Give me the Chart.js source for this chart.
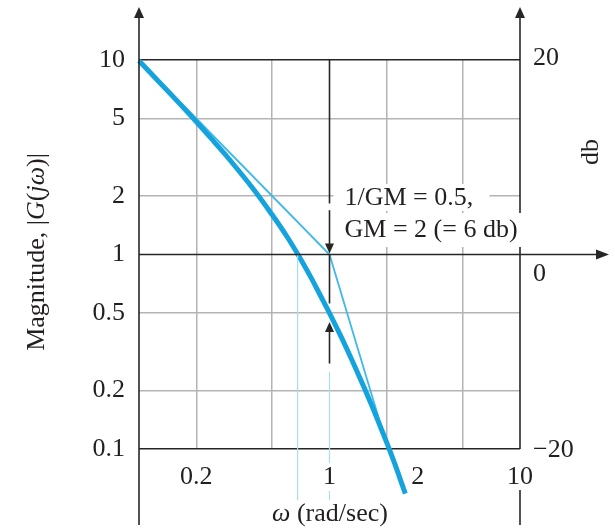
<!DOCTYPE html>
<html>
<head>
<meta charset="utf-8">
<script src="https://cdn.jsdelivr.net/npm/chart.js@4/dist/chart.umd.min.js"></script>
<style>
  html, body { margin: 0; padding: 0; background: #fff; }
</style>
</head>
<body>
<canvas id="bode" width="615" height="528"></canvas>
<script>
// values (log-log)
const omega = [0.1, 0.15, 0.2, 0.25, 0.3, 0.4, 0.5, 0.6, 0.7, 0.8, 0.9, 1.0, 1.15, 1.3, 1.45, 1.6, 1.75, 1.9, 2.05, 2.2, 2.35, 2.5];
const magnitude = [9.9, 6.52, 4.81, 3.76, 3.06, 2.16, 1.6, 1.23, 0.96, 0.76, 0.61, 0.5, 0.378, 0.292, 0.23, 0.184, 0.149, 0.122, 0.101, 0.084, 0.07, 0.059];
const asymptoteOmega = [0.1, 1, 1.85];
const asymptoteMagnitude = [10, 1, 0.135];
const gridValues = [0.1, 0.2, 0.5, 1, 2, 5, 10];
const freqLabels = ["0.2", "1", "2", "10"];
const freqLabelValues = [0.2, 1, 2, 10];
const dbLabels = ["20", "0", "\u221220"];
const dbLabelValues = [10, 1, 0.1];
const crossoverOmega = 0.68;
const phaseCrossOmega = 1;
const gmLines = ["1/GM = 0.5,", "GM = 2 (= 6 db)"];

const DARK = "#262626";
const GREY = "#b4b4b4";
const BLUE = "#15a3de";
const THIN = "#3fb9ec";
const LIGHT = "#a8def5";
const TEXT = "#231f20";
const SERIF = "'Liberation Serif', 'DejaVu Serif', serif";
const FS = 26;
const font = (it) => (it ? "italic " : "") + FS + "px " + SERIF;

function arrow(ctx, x, y, dir, len, half) {
	ctx.beginPath();
	ctx.moveTo(x, y);
	if (dir === "up") { ctx.lineTo(x - half, y + len); ctx.lineTo(x + half, y + len); }
	if (dir === "down") { ctx.lineTo(x - half, y - len); ctx.lineTo(x + half, y - len); }
	if (dir === "right") { ctx.lineTo(x - len, y - half); ctx.lineTo(x - len, y + half); }
	ctx.closePath();
	ctx.fill();
}

function seg(ctx, x0, y0, x1, y1) {
	ctx.beginPath();
	ctx.moveTo(x0, y0);
	ctx.lineTo(x1, y1);
	ctx.stroke();
}

function richText(ctx, parts, x, y) {
	let total = 0;
	parts.forEach(p => { ctx.font = font(p[1]); total += ctx.measureText(p[0]).width; });
	let cx = x - total / 2;
	ctx.textAlign = "left";
	parts.forEach(p => {
		ctx.font = font(p[1]);
		ctx.fillText(p[0], cx, y);
		cx += ctx.measureText(p[0]).width;
	});
}

const overlay = {
	id: "overlay",
	afterDatasetsDraw(chart) {
		const { ctx, chartArea: a, scales: { x, y } } = chart;
		const px = v => x.getPixelForValue(v);
		const py = v => y.getPixelForValue(v);
		const w1 = px(phaseCrossOmega);
		ctx.save();

		// light guide lines
		ctx.strokeStyle = LIGHT;
		ctx.lineWidth = 1.2;
		seg(ctx, px(crossoverOmega), py(1), px(crossoverOmega), 500);
		seg(ctx, w1, py(0.25), w1, 500);

		// white boxes behind the note
		ctx.fillStyle = "#fff";
		ctx.fillRect(w1 + 4, 184, 156, 27);
		ctx.fillRect(w1 + 6, 213, 196, 34);

		// note text
		ctx.fillStyle = TEXT;
		ctx.font = font(false);
		ctx.textAlign = "left";
		ctx.textBaseline = "middle";
		ctx.fillText(gmLines[0], w1 + 15, 198);
		ctx.fillText(gmLines[1], w1 + 15, 230);

		// frequency labels
		ctx.textAlign = "center";
		freqLabels.forEach((t, i) => {
			const v = freqLabelValues[i];
			let cx = px(v);
			if (v === 2) cx += 31;
			const wd = ctx.measureText(t).width;
			ctx.fillStyle = "#fff";
			ctx.fillRect(cx - wd / 2 - 3, 463, wd + 6, 28);
			ctx.fillStyle = TEXT;
			ctx.fillText(t, cx, 477);
		});

		// db labels
		ctx.textAlign = "left";
		dbLabels.forEach((t, i) => {
			const v = dbLabelValues[i];
			const off = v === 1 ? 20 : (v === 10 ? -2 : 1);
			ctx.fillText(t, a.right + 13, py(v) + off);
		});

		// axis titles
		richText(ctx, [["\u03c9", true], [" (rad/sec)", false]], 330, 514);
		ctx.save();
		ctx.translate(37, 252);
		ctx.rotate(-Math.PI / 2);
		richText(ctx, [["Magnitude, |", false], ["G", true], ["(", false], ["j\u03c9", true], [")|", false]], 0, 0);
		ctx.restore();
		ctx.save();
		ctx.translate(591, 152);
		ctx.rotate(-Math.PI / 2);
		richText(ctx, [["db", false]], 0, 0);
		ctx.restore();

		// axes
		ctx.strokeStyle = DARK;
		ctx.fillStyle = DARK;
		ctx.lineWidth = 1.6;
		seg(ctx, a.left, 14, a.left, 525);
		arrow(ctx, a.left, 7, "up", 11, 5);
		seg(ctx, a.right, 14, a.right, 213);
		seg(ctx, a.right, 247, a.right, a.bottom);
		seg(ctx, a.right, 490, a.right, 525);
		arrow(ctx, a.right, 7, "up", 11, 5);
		seg(ctx, a.left, py(1), 600, py(1));
		arrow(ctx, 609, py(1), "right", 13, 5);

		// gain margin marker at phase crossover
		seg(ctx, w1, a.top, w1, py(1.83));
		seg(ctx, w1, py(1.69), w1, py(1) - 8);
		arrow(ctx, w1, py(1) - 1, "down", 10, 4.5);
		seg(ctx, w1, py(1), w1, py(0.56));
		seg(ctx, w1, py(0.45) + 8, w1, py(0.275));
		arrow(ctx, w1, py(0.45), "up", 10, 4.5);

		ctx.restore();
	}
};

const gridColor = (majorDark, hidden) => (c) => {
	const v = c.tick ? c.tick.value : null;
	if (hidden.includes(v)) return "rgba(0,0,0,0)";
	if (majorDark.includes(v)) return DARK;
	return GREY;
};

new Chart(document.getElementById("bode"), {
	type: "scatter",
	data: {
		datasets: [
			{
				label: "|G(j\u03c9)|",
				data: omega.map((w, i) => ({ x: w, y: magnitude[i] })),
				showLine: true,
				borderColor: BLUE,
				borderWidth: 5,
				pointRadius: 0,
				tension: 0.4,
				clip: false
			},
			{
				label: "asymptote",
				data: asymptoteOmega.map((w, i) => ({ x: w, y: asymptoteMagnitude[i] })),
				showLine: true,
				borderColor: THIN,
				borderWidth: 1.8,
				pointRadius: 0,
				clip: false
			}
		]
	},
	options: {
		responsive: false,
		animation: false,
		layout: { padding: { left: 0, right: 95, top: 60, bottom: 0 } },
		plugins: { legend: { display: false }, tooltip: { enabled: false } },
		scales: {
			x: {
				type: "logarithmic",
				min: 0.1,
				max: 10,
				afterBuildTicks: s => { s.ticks = gridValues.map(v => ({ value: v })); },
				afterFit: s => { s.height = 79; },
				border: { display: false },
				grid: { color: gridColor([], [0.1, 1, 10]), lineWidth: 1.5, drawTicks: false },
				ticks: { display: false }
			},
			y: {
				type: "logarithmic",
				min: 0.1,
				max: 10,
				afterBuildTicks: s => { s.ticks = gridValues.map(v => ({ value: v })); },
				afterFit: s => { s.width = 139; },
				border: { display: false },
				grid: { color: gridColor([0.1, 10], [1]), lineWidth: 1.5, drawTicks: false },
				ticks: {
					callback: v => String(v),
					color: TEXT,
					padding: 14,
					font: { family: SERIF, size: FS }
				}
			}
		}
	},
	plugins: [overlay]
});
</script>
</body>
</html>
